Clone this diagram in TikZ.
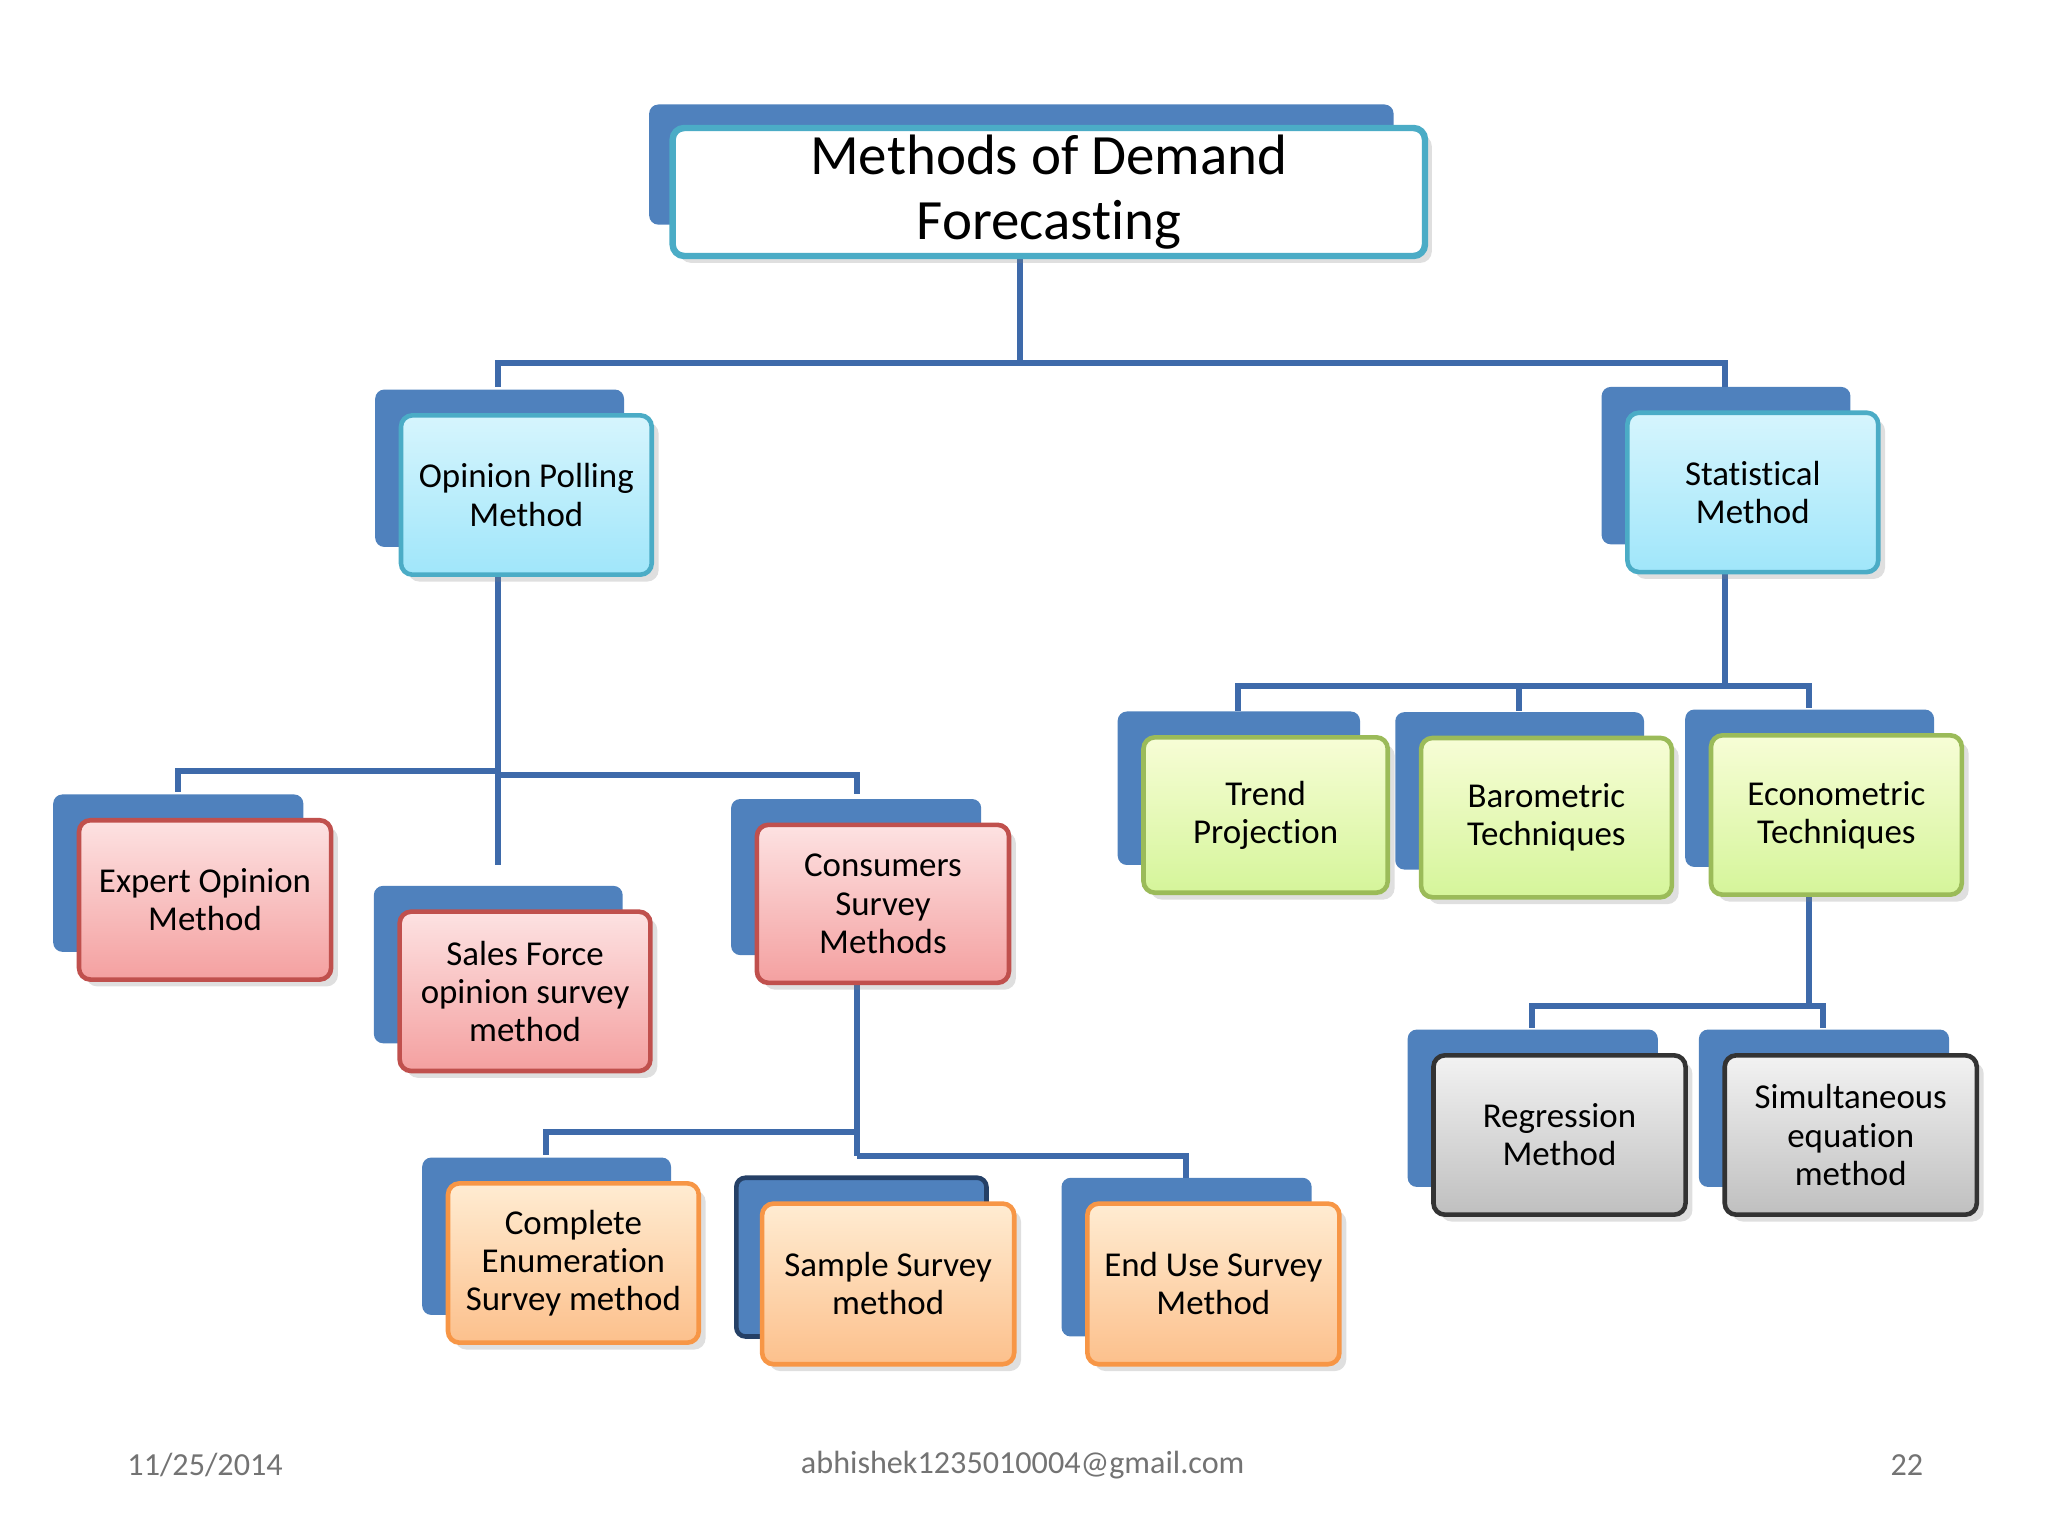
\documentclass[tikz,border=0pt]{standalone}
\usepackage{fontspec}
\setmainfont{Carlito}[Ligatures={NoCommon}]
\usetikzlibrary{calc,shadows,backgrounds}
\definecolor{ln}{RGB}{62,106,170}
\definecolor{bk}{RGB}{79,129,189}
\definecolor{bluD}{RGB}{75,172,198}\definecolor{bluT}{RGB}{214,245,253}\definecolor{bluB}{RGB}{160,230,250}
\definecolor{redD}{RGB}{192,80,77}\definecolor{redT}{RGB}{253,226,226}\definecolor{redB}{RGB}{244,160,160}
\definecolor{grnD}{RGB}{155,187,89}\definecolor{grnT}{RGB}{247,253,214}\definecolor{grnB}{RGB}{213,245,154}
\definecolor{orgD}{RGB}{247,150,70}\definecolor{orgT}{RGB}{255,236,210}\definecolor{orgB}{RGB}{252,192,140}
\tikzset{
  fr/.style={draw, line width=1pt, rounded corners=2.5pt, align=center, inner sep=1pt,
    drop shadow={opacity=0.25, shadow xshift=1.5pt, shadow yshift=-1.5pt},
    font=\fontsize{7.6}{8.3}\selectfont},
  blu/.style={fr, draw=bluD, top color=bluT, bottom color=bluB},
  red/.style={fr, draw=redD, top color=redT, bottom color=redB},
  grn/.style={fr, draw=grnD, top color=grnT, bottom color=grnB},
  org/.style={fr, draw=orgD, top color=orgT, bottom color=orgB},
  gry/.style={fr, draw=black!80, top color=black!5, bottom color=black!25},
  ttl/.style={fr, draw=bluD, fill=white, line width=1.4pt, font=\fontsize{12.4}{14}\selectfont},
  back/.style={fill=bk, rounded corners=2pt},
  con/.style={draw=ln, line width=1.3pt},
  foot/.style={text=black!55, font=\fontsize{7}{8}\selectfont}
}
\newcommand{\bx}[7]{\node[#6, minimum width=#4*0.01cm, minimum height=#5*0.01cm] (#1) at (#2,#3) {#7};}
\newcommand{\bk}[1]{\fill[back] ($(#1.north west)+(-18,-18)$) rectangle ($(#1.south east)+(-23,-23)$);}
\begin{document}
\begin{tikzpicture}[x=0.01cm,y=-0.01cm]
\useasboundingbox (0,0) rectangle (1568,1176);
\bx{t}{803}{147}{576}{98}{ttl}{Methods of Demand\\Forecasting}
\bx{op}{403}{379}{192}{122}{blu}{Opinion Polling\\Method}
\bx{st}{1342}{377}{192}{122}{blu}{Statistical\\Method}
\bx{tr}{969}{624}{187}{119}{grn}{Trend\\Projection}
\bx{ba}{1184}{626}{192}{122}{grn}{Barometric\\Techniques}
\bx{ec}{1406}{624}{192}{122}{grn}{Econometric\\Techniques}
\bx{ex}{157}{689}{193}{122}{red}{Expert Opinion\\Method}
\bx{sa}{402}{759}{192}{122}{red}{Sales Force\\opinion survey\\method}
\bx{cs}{676}{692}{193}{121}{red}{Consumers\\Survey\\Methods}
\bx{ce}{439}{967}{192}{122}{org}{Complete\\Enumeration\\Survey method}
\bx{ss}{680}{983}{193}{123}{org}{Sample Survey\\method}
\bx{eu}{929}{983}{193}{123}{org}{End Use Survey\\Method}
\bx{rg}{1194}{869}{193}{122}{gry}{Regression\\Method}
\bx{si}{1417}{869}{193}{122}{gry}{Simultaneous\\equation\\method}
\begin{pgfonlayer}{background}
\fill[back] (497,80) rectangle (1067,172);
\foreach \n in {op,st,tr,ba,ec,ex,sa,cs,ce,eu,rg,si} {\bk{\n}}
\fill[back, draw=ln!60!black, line width=1pt] ($(ss.north west)+(-18,-18)$) rectangle ($(ss.south east)+(-23,-23)$);
\coordinate (a1) at (381,296); \coordinate (a2) at (1321,296); \coordinate (a0) at (781,196);
\draw[con] (a0) -- (781,278) -- (381,278) -- (a1);
\draw[con] (781,278) -- (1321,278) -- (a2);
\coordinate (b1) at (136,606); \coordinate (b2) at (381,662); \coordinate (b3) at (656,608);
\draw[con] (381,440) -- (b2);
\draw[con] (381,590) -- (136,590) -- (b1);
\draw[con] (381,593) -- (656,593) -- (b3);
\coordinate (c1) at (948,544); \coordinate (c2) at (1163,544); \coordinate (c3) at (1385,542);
\draw[con] (1321,438) -- (1321,525);
\draw[con] (c1) -- (948,525) -- (1385,525) -- (c3);
\draw[con] (1163,525) -- (c2);
\coordinate (d1) at (1173,787); \coordinate (d2) at (1396,787);
\draw[con] (1385,685) -- (1385,770);
\draw[con] (d1) -- (1173,770) -- (1396,770) -- (d2);
\coordinate (e1) at (418,884); \coordinate (e2) at (908,902);
\draw[con] (656,753) -- (656,885);
\draw[con] (656,867) -- (418,867) -- (e1);
\draw[con] (656,885) -- (908,885) -- (e2);
\end{pgfonlayer}
\node[foot] (f1) at (157,1122) {11/25/2014};
\node[foot] (f2) at (783,1122) {abhishek1235010004@gmail.com};
\node[foot] (f3) at (1460,1122) {22};
\end{tikzpicture}
\end{document}
